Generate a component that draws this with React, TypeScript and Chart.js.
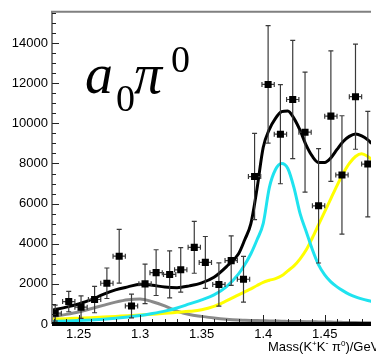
import React, { useEffect, useRef } from 'react';
import { Chart, registerables } from 'chart.js';

Chart.register(...registerables);

// ---- data ----
const pointMass = [1.231, 1.242, 1.252, 1.263, 1.273, 1.283, 1.293, 1.304, 1.313, 1.324, 1.333, 1.344, 1.353, 1.364, 1.374, 1.384, 1.393, 1.404, 1.414, 1.424, 1.434, 1.445, 1.455, 1.464, 1.475, 1.485];
const pointCounts = [540, 1120, 840, 1220, 2030, 3380, 900, 2000, 2560, 2470, 2700, 3820, 3070, 1970, 3160, 2230, 7350, 11940, 9460, 11190, 9560, 5890, 10360, 7430, 11330, 7970];
const pointErrors = [400, 510, 560, 660, 760, 1340, 590, 980, 1140, 1170, 1110, 1290, 1290, 1080, 1230, 1140, 2150, 2930, 2470, 2950, 2990, 2850, 3250, 2950, 2620, 2630];
const binHalfWidth = 0.005;

const curveMass = [1.228, 1.24, 1.25, 1.26, 1.27, 1.28, 1.29, 1.30, 1.31, 1.32, 1.33, 1.34, 1.35, 1.36, 1.37, 1.38, 1.385, 1.39, 1.395, 1.40, 1.405, 1.41, 1.415, 1.42, 1.425, 1.43, 1.435, 1.44, 1.445, 1.45, 1.455, 1.46, 1.465, 1.47, 1.475, 1.48, 1.485, 1.488];
const totalFit = [680, 840, 1000, 1200, 1480, 1700, 1850, 1980, 1930, 1840, 1810, 1900, 2050, 2330, 2850, 3500, 4200, 5000, 6750, 8800, 9700, 10250, 10580, 10620, 10250, 9650, 8900, 8350, 8050, 8050, 8280, 8700, 9100, 9350, 9470, 9380, 9180, 9000];
const a0Component = [130, 150, 170, 200, 240, 290, 350, 420, 520, 640, 800, 1000, 1200, 1450, 1850, 2500, 2950, 3500, 4200, 5000, 6800, 7700, 8000, 7750, 6800, 5500, 4600, 3700, 2950, 2450, 2100, 1850, 1650, 1480, 1350, 1250, 1170, 1130];
const grayComponent = [360, 480, 600, 760, 930, 1090, 1210, 1250, 1110, 900, 640, 470, 380, 300, 240, 200, 190, 180, 170, 160, 150, 145, 140, 130, 125, 120, 115, 110, 105, 100, 95, 85, 80, 75, 70, 65, 60, 58];
const yellowComponent = [240, 265, 290, 315, 345, 380, 410, 450, 490, 530, 580, 630, 710, 880, 1150, 1450, 1600, 1750, 1920, 2080, 2180, 2260, 2400, 2650, 2900, 3250, 3700, 4300, 4950, 5600, 6250, 6900, 7500, 8000, 8350, 8490, 8350, 8200];

const xTickLabels = [1.25, 1.3, 1.35, 1.4, 1.45];
const yTickLabels = [0, 2000, 4000, 6000, 8000, 10000, 12000, 14000];

const X_MIN = 1.2284;
const X_MAX = 1.4876;
const Y_MAX = 15560;
const Y_MINOR = 500;

const FONT = '"Liberation Sans", Arial, Helvetica, sans-serif';
const SERIF = '"Liberation Serif", "Times New Roman", serif';

const toXY = (xs: number[], ys: number[]) => xs.map((x, i) => ({ x, y: ys[i] }));

const decorPlugin = {
  id: 'decor',
  beforeDatasetDraw(chart: any, args: any) {
    if (args.index !== 0) return;
    const { ctx } = chart;
    const xs = chart.scales.x;
    const ys = chart.scales.y;
    ctx.save();
    ctx.beginPath();
    const a = chart.chartArea;
    ctx.rect(a.left, a.top, a.right - a.left, a.bottom - a.top);
    ctx.clip();
    ctx.strokeStyle = '#3a3a3a';
    ctx.lineWidth = 1.2;
    pointMass.forEach((m, i) => {
      const px = xs.getPixelForValue(m);
      const py = ys.getPixelForValue(pointCounts[i]);
      const pTop = ys.getPixelForValue(pointCounts[i] + pointErrors[i]);
      const pBot = ys.getPixelForValue(pointCounts[i] - pointErrors[i]);
      const pL = xs.getPixelForValue(m - binHalfWidth);
      const pR = xs.getPixelForValue(m + binHalfWidth);
      ctx.beginPath();
      ctx.moveTo(px, pTop); ctx.lineTo(px, pBot);
      ctx.moveTo(px - 2.5, pTop); ctx.lineTo(px + 2.5, pTop);
      ctx.moveTo(px - 2.5, pBot); ctx.lineTo(px + 2.5, pBot);
      ctx.moveTo(pL, py); ctx.lineTo(pR, py);
      ctx.moveTo(pL, py - 2.5); ctx.lineTo(pL, py + 2.5);
      ctx.moveTo(pR, py - 2.5); ctx.lineTo(pR, py + 2.5);
      ctx.stroke();
    });
    ctx.restore();
  },
  afterDatasetsDraw(chart: any) {
    const { ctx } = chart;
    const a = chart.chartArea;
    const xs = chart.scales.x;
    const ys = chart.scales.y;
    ctx.save();
    // frame
    ctx.strokeStyle = '#808080';
    ctx.lineWidth = 2;
    ctx.beginPath();
    ctx.moveTo(a.left, a.bottom);
    ctx.lineTo(a.left, a.top);
    ctx.lineTo(a.right, a.top);
    ctx.stroke();
    // y ticks
    ctx.strokeStyle = '#222';
    ctx.lineWidth = 1;
    ctx.beginPath();
    for (let v = 0; v <= Y_MAX; v += Y_MINOR) {
      const py = Math.round(ys.getPixelForValue(v)) + 0.5;
      const len = yTickLabels.includes(v) ? 7 : 4;
      ctx.moveTo(a.left, py);
      ctx.lineTo(a.left + len, py);
    }
    ctx.stroke();
    // x ticks
    ctx.beginPath();
    for (let i = 123; i <= 148; i++) {
      const px = Math.round(xs.getPixelForValue(i / 100)) + 0.5;
      const len = i % 5 === 0 ? 9 : 5;
      ctx.moveTo(px, a.bottom);
      ctx.lineTo(px, a.bottom - len);
    }
    ctx.stroke();
    // bottom axis line
    ctx.strokeStyle = '#000';
    ctx.lineWidth = 4;
    ctx.beginPath();
    ctx.moveTo(a.left, a.bottom);
    ctx.lineTo(a.right, a.bottom);
    ctx.stroke();

    // axis title
    ctx.fillStyle = '#000';
    ctx.textBaseline = 'alphabetic';
    ctx.textAlign = 'left';
    const parts: [string, number, number][] = [
      ['Mass(K', 13, 0], ['+', 8, -5], ['K', 13, 0], ['-', 9, -5], [' \u03c0', 13, 0], ['0', 8, -5], [')/GeV', 13, 0],
    ];
    let cx = 268;
    const base = 351;
    parts.forEach(([t, s, dy]) => {
      ctx.font = `${s}px ${FONT}`;
      ctx.fillText(t, cx, base + dy);
      cx += ctx.measureText(t).width;
    });

    // big label
    ctx.font = `italic 56px ${SERIF}`;
    ctx.fillText('a', 85, 93);
    ctx.font = `38px ${SERIF}`;
    ctx.fillText('0', 116, 111);
    ctx.font = `italic 56px ${SERIF}`;
    ctx.fillText('\u03c0', 134, 93);
    ctx.font = `38px ${SERIF}`;
    ctx.fillText('0', 171, 72);
    ctx.restore();
  },
};

export default function App() {
  const ref = useRef<HTMLCanvasElement | null>(null);
  useEffect(() => {
    const canvas = ref.current;
    if (!canvas) return;
    const lineDs = (label: string, ys: number[], color: string, order: number) => ({
      type: 'line' as const,
      label,
      data: toXY(curveMass, ys),
      borderColor: color,
      backgroundColor: color,
      borderWidth: 3,
      pointRadius: 0,
      cubicInterpolationMode: 'monotone' as const,
      fill: false,
      order,
    });
    const chart = new Chart(canvas, {
      type: 'scatter',
      data: {
        datasets: [
          {
            type: 'scatter' as const,
            label: 'data',
            data: toXY(pointMass, pointCounts),
            pointStyle: 'rect',
            pointRadius: 5,
            backgroundColor: '#000',
            borderColor: '#000',
            borderWidth: 0,
            order: 0,
          } as any,
          lineDs('total', totalFit, '#000000', 1),
          lineDs('a0', a0Component, '#1fe3ef', 2),
          lineDs('yellow', yellowComponent, '#ffff00', 3),
          lineDs('gray', grayComponent, '#8a8a8a', 4),
        ],
      },
      options: {
        animation: false,
        responsive: false,
        devicePixelRatio: 1,
        layout: { padding: { top: 5, right: 0, left: 0, bottom: 0 } },
        plugins: { legend: { display: false }, tooltip: { enabled: false } },
        scales: {
          x: {
            type: 'linear',
            min: X_MIN,
            max: X_MAX,
            grid: { display: false, drawTicks: false },
            border: { display: false },
            afterBuildTicks: (s: any) => { s.ticks = xTickLabels.map((v) => ({ value: v })); },
            ticks: {
              autoSkip: false,
              maxRotation: 0,
              padding: 3,
              color: '#000',
              font: { family: FONT, size: 13 },
              callback: (v: any) => String(v),
            },
            afterFit: (s: any) => { s.height = 33; },
          },
          y: {
            type: 'linear',
            min: 0,
            max: Y_MAX,
            grid: { display: false, drawTicks: false },
            border: { display: false },
            afterBuildTicks: (s: any) => { s.ticks = yTickLabels.map((v) => ({ value: v })); },
            ticks: {
              autoSkip: false,
              padding: 4,
              color: '#000',
              font: { family: FONT, size: 13 },
              callback: (v: any) => String(v),
            },
            afterFit: (s: any) => { s.width = 52; },
          },
        },
      },
      plugins: [decorPlugin],
    } as any);
    return () => chart.destroy();
  }, []);
  return (
    <div style={{ position: 'fixed', left: 0, top: 0, width: 376, height: 357, background: '#fff' }}>
      <canvas ref={ref} width={376} height={357} style={{ display: 'block' }} />
    </div>
  );
}
